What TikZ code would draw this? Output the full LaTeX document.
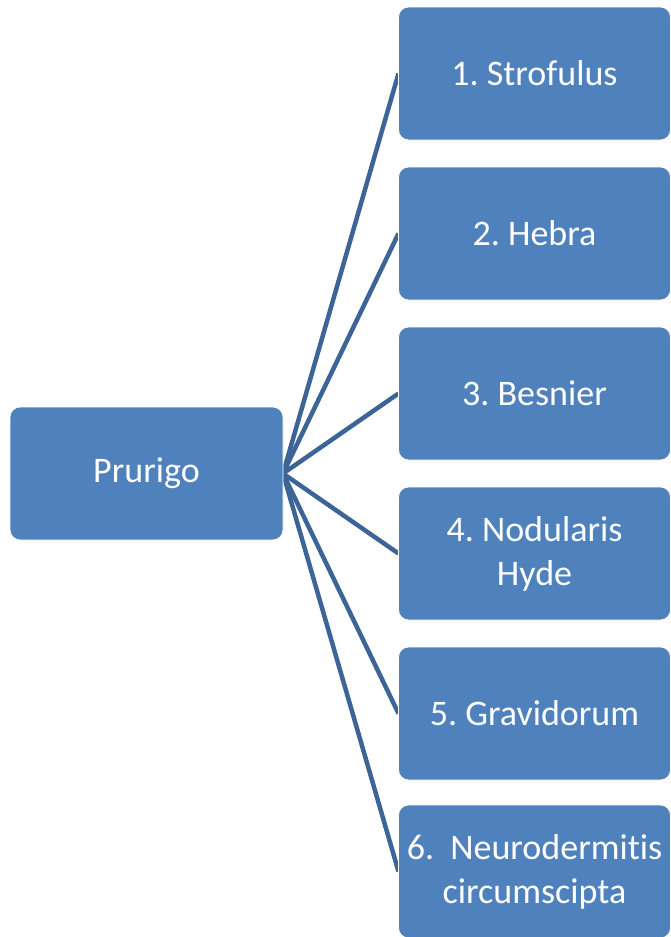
\documentclass[tikz,border=0pt]{standalone}
\usepackage{fontspec}
\setmainfont{Carlito}[Ligatures=NoCommon]
\usepackage{xcolor}
\usetikzlibrary{positioning, backgrounds}

\definecolor{boxblue}{HTML}{4F81BD}
\definecolor{lineblue}{HTML}{3C6496}

\begin{document}
\frenchspacing
\begin{tikzpicture}[
        x=1pt, y=-1pt,
        item/.style={rectangle, rounded corners=10pt, fill=boxblue, draw=white, line width=0.8pt,
            minimum width=272pt, minimum height=133pt, inner sep=0pt, outer sep=0pt, align=center,
            text=white, font=\fontsize{36}{44}\selectfont},
        link/.style={lineblue, line width=4.5pt}
    ]
        \useasboundingbox (0,0) rectangle (670,937);

        % Hauptbegriff
        \node[item, minimum width=273pt] (prurigo) at (146.5,473.5) {Prurigo};

        % Unterformen
        \node[item] (strofulus) at (534.5,73.5) {1. Strofulus};
        \node[item, below=27pt of strofulus] (hebra) {2. Hebra};
        \node[item, below=27pt of hebra] (besnier) {3. Besnier};
        \node[item, below=27pt of besnier] (nodularis) {4. Nodularis\\Hyde};
        \node[item, below=27pt of nodularis] (gravidorum) {5. Gravidorum};
        \node[item, below=25pt of gravidorum] (neuro) {6.\ \ Neurodermitis\\circumscipta};

        % Verbindungen
        \begin{scope}[on background layer]
            \foreach \sub in {strofulus, hebra, besnier, nodularis, gravidorum, neuro}
                \draw[link] (prurigo.east) -- (\sub.west);
        \end{scope}
    \end{tikzpicture}
\end{document}
